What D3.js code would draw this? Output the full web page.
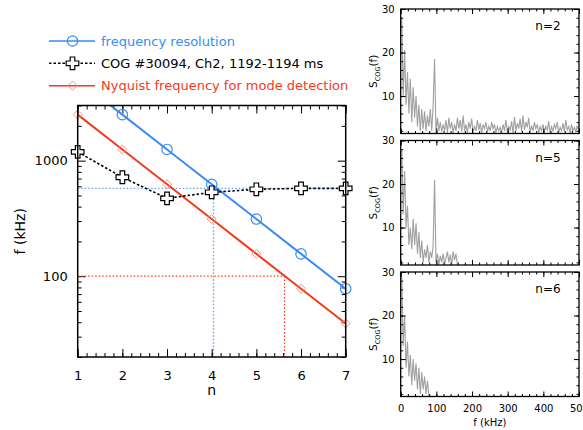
<!DOCTYPE html>
<html>
<head>
<meta charset="utf-8">
<script src="https://cdn.jsdelivr.net/npm/d3@7"></script>
<style>
  body { margin: 0; background: #fff; }
  svg { display: block; font-family: "DejaVu Sans", sans-serif; }
</style>
</head>
<body>
<div id="chart"></div>
<script>
// --- data ---
const nValues = [1, 2, 3, 4, 5, 6, 7];
const freqResolution = [5000, 2500, 1250, 625, 312.5, 156, 78];   // kHz
const cogFreq = [1190, 718, 472, 532, 565, 576, 576];            // kHz
const nyquistFreq = [2500, 1250, 625, 312.5, 156, 78, 39];        // kHz
const blueGuide = [4.04, 576];   // [n, f]
const redGuide = [5.63, 100];    // [n, f]
const legendLabels = ['frequency resolution', 'COG #30094, Ch2, 1192-1194 ms', 'Nyquist frequency for mode detection'];

// spectra S_COG(f), sampled every 4 kHz starting at 3 kHz
const specStart = 3;
const specStep = 4;
const specN2 = [28, 10, 20.5, 8, 15.5, 6, 14, 4, 12, 5, 10, 3, 8, 2, 7, 2.5, 6.5, 2, 5.5, 3,
  7, 2, 8, 18.5, 1.5, 5, 2, 4, 1.8, 3.5, 2, 4.5, 1.6, 5, 2.5, 4, 1.5, 3.5, 2, 5,
  2.5, 4.5, 1.8, 5.5, 2, 3.5, 1.5, 4, 2.5, 4.8, 1.6, 3, 2, 4.5, 2.2, 3.8, 1.5, 3.5, 2.5, 4,
  1.8, 3, 2, 4, 2.5, 3.5, 1.5, 3, 2, 2.8, 1.6, 3.5, 2, 4.5, 1.8, 3, 2.2, 4.2, 1.5, 5.2,
  2, 3.8, 2.5, 4.8, 1.8, 5.5, 2.2, 4, 2.8, 5, 1.6, 3.2, 2, 4, 2.5, 3.5, 1.5, 3, 2, 3.5,
  1.8, 3, 2.2, 4.2, 1.5, 3, 2, 3.5, 2.5, 4, 1.6, 2.8, 2, 3.8, 1.8, 4.5, 2.2, 3, 1.5, 3.5,
  2, 2.8, 1.8, 3.2, 2];
const specN5 = [28, 13, 23, 10, 15, 6, 10, 5, 12, 6, 11, 4, 9, 3, 7, 2, 5, 3, 6, 2,
  4.5, 3, 6, 21, 2, 4, 1.5, 3.5, 2, 4, 1.6, 3, 4.5, 2, 3.8, 1.5, 4.5, 2.5, 4, 1.5];
const specN6 = [29, 13, 20, 8, 14, 6, 11, 4, 10, 5, 9, 3, 8, 2, 7, 3, 6, 2, 5, 1.5];
const spectra = [specN2, specN5, specN6];
const panelLabels = ['n=2', 'n=5', 'n=6'];

const blue = '#3a8cf2';
const red = '#f43a1c';

const W = 583, H = 430;
const svg = d3.select('#chart').append('svg').attr('width', W).attr('height', H);

// ---------- main panel ----------
const x = d3.scaleLinear().domain([1, 7]).range([77.7, 345.7]);
const y = d3.scaleLog().domain([20, 3000]).range([357, 105.5]);

svg.append('clipPath').attr('id', 'mainClip')
  .append('rect')
  .attr('x', x(1)).attr('y', y(3000))
  .attr('width', x(7) - x(1)).attr('height', y(20) - y(3000));

function inwardAxis(g, axis) {
  g.call(axis);
  g.select('.domain').remove();
  g.selectAll('.tick line').attr('stroke', '#000').attr('stroke-width', 1);
}

const xMinor = d3.range(1, 7.001, 0.2);
const yMajor = [100, 1000];
const yMinor = [20, 30, 40, 50, 60, 70, 80, 90, 200, 300, 400, 500, 600, 700, 800, 900, 2000, 3000];

const axes = svg.append('g');
axes.append('g').attr('transform', `translate(0,${y(20)})`)
  .call(g => inwardAxis(g, d3.axisBottom(x).tickValues(xMinor).tickSize(-4).tickFormat('')));
axes.append('g').attr('transform', `translate(0,${y(20)})`)
  .call(g => inwardAxis(g, d3.axisBottom(x).tickValues(nValues).tickSize(-8).tickPadding(14).tickFormat(d3.format('d'))));
axes.append('g').attr('transform', `translate(0,${y(3000)})`)
  .call(g => inwardAxis(g, d3.axisTop(x).tickValues(xMinor).tickSize(-4).tickFormat('')));
axes.append('g').attr('transform', `translate(0,${y(3000)})`)
  .call(g => inwardAxis(g, d3.axisTop(x).tickValues(nValues).tickSize(-8).tickFormat('')));
axes.append('g').attr('transform', `translate(${x(1)},0)`)
  .call(g => inwardAxis(g, d3.axisLeft(y).tickValues(yMinor).tickSize(-4).tickFormat('')));
axes.append('g').attr('transform', `translate(${x(1)},0)`)
  .call(g => inwardAxis(g, d3.axisLeft(y).tickValues(yMajor).tickSize(-8).tickPadding(10).tickFormat(d3.format('d'))));
axes.append('g').attr('transform', `translate(${x(7)},0)`)
  .call(g => inwardAxis(g, d3.axisRight(y).tickValues(yMinor).tickSize(-4).tickFormat('')));
axes.append('g').attr('transform', `translate(${x(7)},0)`)
  .call(g => inwardAxis(g, d3.axisRight(y).tickValues(yMajor).tickSize(-8).tickFormat('')));
axes.selectAll('text').attr('font-size', 13).attr('font-family', '"DejaVu Sans", sans-serif').attr('fill', '#000');

// guide lines
const guides = svg.append('g').attr('clip-path', 'url(#mainClip)');
guides.append('path')
  .attr('d', `M${x(1)},${y(blueGuide[1])}H${x(7)}M${x(blueGuide[0])},${y(blueGuide[1])}V${y(20)}`)
  .attr('stroke', blue).attr('stroke-width', 1.3).attr('stroke-dasharray', '1.5,2').attr('fill', 'none').attr('opacity', 0.8);
guides.append('path')
  .attr('d', `M${x(1)},${y(redGuide[1])}H${x(redGuide[0])}V${y(20)}`)
  .attr('stroke', red).attr('stroke-width', 1.2).attr('stroke-dasharray', '1.5,2').attr('fill', 'none');

const lineOf = vals => d3.line().x((d, i) => x(nValues[i])).y(d => y(d))(vals);
const series = svg.append('g').attr('clip-path', 'url(#mainClip)');
series.append('path').attr('d', lineOf(nyquistFreq)).attr('stroke', red).attr('stroke-width', 2).attr('fill', 'none');
series.append('path').attr('d', lineOf(freqResolution)).attr('stroke', blue).attr('stroke-width', 2).attr('fill', 'none');
series.append('path').attr('d', lineOf(cogFreq)).attr('stroke', '#000').attr('stroke-width', 1.6)
  .attr('stroke-dasharray', '2.5,2').attr('fill', 'none');

// markers
const plusPath = 'M-2.3,-6.3H2.3V-2.3H6.3V2.3H2.3V6.3H-2.3V2.3H-6.3V-2.3H-2.3Z';
const diamondPath = 'M0,-4.5L4.5,0L0,4.5L-4.5,0Z';
const inDomain = v => v <= 3000 && v >= 20;

function drawCircle(g, cx, cy) {
  g.append('circle').attr('cx', cx).attr('cy', cy).attr('r', 5.2)
    .attr('fill', 'none').attr('stroke', blue).attr('stroke-width', 1.2);
}
function drawDiamond(g, cx, cy) {
  g.append('path').attr('d', diamondPath).attr('transform', `translate(${cx},${cy})`)
    .attr('fill', 'none').attr('stroke', '#f8907c').attr('stroke-width', 1);
}
function drawPlus(g, cx, cy) {
  g.append('path').attr('d', plusPath).attr('transform', `translate(${cx},${cy})`)
    .attr('fill', '#fff').attr('stroke', '#000').attr('stroke-width', 1.2);
}

const marks = svg.append('g');
nyquistFreq.forEach((v, i) => { if (inDomain(v)) drawDiamond(marks, x(nValues[i]), y(v)); });
freqResolution.forEach((v, i) => { if (inDomain(v)) drawCircle(marks, x(nValues[i]), y(v)); });
cogFreq.forEach((v, i) => { if (inDomain(v)) drawPlus(marks, x(nValues[i]), y(v)); });

svg.append('rect')
  .attr('x', x(1)).attr('y', y(3000))
  .attr('width', x(7) - x(1)).attr('height', y(20) - y(3000))
  .attr('fill', 'none').attr('stroke', '#000').attr('stroke-width', 1.5);

svg.append('text').attr('x', (x(1) + x(7)) / 2).attr('y', 395)
  .attr('text-anchor', 'middle').attr('font-size', 14).text('n');
svg.append('text').attr('transform', `translate(25,${(y(20) + y(3000)) / 2}) rotate(-90)`)
  .attr('text-anchor', 'middle').attr('font-size', 14).text('f (kHz)');

// legend
const legY = [41, 63.3, 85.7];
const leg = svg.append('g');
leg.append('line').attr('x1', 49).attr('x2', 95).attr('y1', legY[0]).attr('y2', legY[0])
  .attr('stroke', blue).attr('stroke-width', 1.5);
drawCircle(leg, 72.5, legY[0]);
leg.append('line').attr('x1', 49).attr('x2', 95).attr('y1', legY[1]).attr('y2', legY[1])
  .attr('stroke', '#000').attr('stroke-width', 1.5).attr('stroke-dasharray', '2.5,2');
drawPlus(leg, 72.5, legY[1]);
leg.append('line').attr('x1', 49).attr('x2', 95).attr('y1', legY[2]).attr('y2', legY[2])
  .attr('stroke', red).attr('stroke-width', 1.5);
drawDiamond(leg, 72.5, legY[2]);
const legColors = [blue, '#000', red];
legendLabels.forEach((t, i) => {
  leg.append('text').attr('x', 101).attr('y', legY[i]).attr('dy', '0.35em')
    .attr('font-size', 13).attr('fill', legColors[i]).text(t);
});

// ---------- spectra panels ----------
const fx = d3.scaleLinear().domain([0, 500]).range([400.7, 579]);
const panelTops = [9, 140.5, 272];
const panelH = 124.5;

spectra.forEach((vals, p) => {
  const top = panelTops[p], bottom = top + panelH;
  const sy = d3.scaleLinear().domain([1.4, 30]).range([bottom, top]);
  const g = svg.append('g');
  const clipId = 'specClip' + p;
  g.append('clipPath').attr('id', clipId).append('rect')
    .attr('x', fx(0)).attr('y', top).attr('width', fx(500) - fx(0)).attr('height', panelH);

  g.append('path')
    .attr('d', d3.line().x((d, i) => fx(specStart + i * specStep)).y(d => sy(d))(vals))
    .attr('clip-path', `url(#${clipId})`)
    .attr('fill', 'none').attr('stroke', '#a0a0a0').attr('stroke-width', 1.1);

  const xMin = d3.range(0, 501, 20), xMaj = d3.range(0, 501, 100);
  const yMin = d3.range(2, 30.1, 2), yMaj = [10, 20, 30];
  const ax = g.append('g');
  ax.append('g').attr('transform', `translate(0,${bottom})`)
    .call(a => inwardAxis(a, d3.axisBottom(fx).tickValues(xMin).tickSize(-2.5).tickFormat('')));
  ax.append('g').attr('transform', `translate(0,${bottom})`)
    .call(a => inwardAxis(a, d3.axisBottom(fx).tickValues(xMaj).tickSize(-5).tickPadding(8)
      .tickFormat(p === 2 ? d3.format('d') : '')));
  ax.append('g').attr('transform', `translate(0,${top})`)
    .call(a => inwardAxis(a, d3.axisTop(fx).tickValues(xMin).tickSize(-2.5).tickFormat('')));
  ax.append('g').attr('transform', `translate(0,${top})`)
    .call(a => inwardAxis(a, d3.axisTop(fx).tickValues(xMaj).tickSize(-5).tickFormat('')));
  ax.append('g').attr('transform', `translate(${fx(0)},0)`)
    .call(a => inwardAxis(a, d3.axisLeft(sy).tickValues(yMin).tickSize(-2.5).tickFormat('')));
  ax.append('g').attr('transform', `translate(${fx(0)},0)`)
    .call(a => inwardAxis(a, d3.axisLeft(sy).tickValues(yMaj).tickSize(-5).tickPadding(6).tickFormat(d3.format('d'))));
  ax.append('g').attr('transform', `translate(${fx(500)},0)`)
    .call(a => inwardAxis(a, d3.axisRight(sy).tickValues(yMin).tickSize(-2.5).tickFormat('')));
  ax.append('g').attr('transform', `translate(${fx(500)},0)`)
    .call(a => inwardAxis(a, d3.axisRight(sy).tickValues(yMaj).tickSize(-5).tickFormat('')));
  ax.selectAll('text').attr('font-size', 10).attr('font-family', '"DejaVu Sans", sans-serif').attr('fill', '#000');

  g.append('rect').attr('x', fx(0)).attr('y', top).attr('width', fx(500) - fx(0)).attr('height', panelH)
    .attr('fill', 'none').attr('stroke', '#000').attr('stroke-width', 1.3);

  g.append('text').attr('x', 548).attr('y', top + 17).attr('dy', '0.35em')
    .attr('text-anchor', 'middle').attr('font-size', 12).text(panelLabels[p]);

  const yl = g.append('text').attr('transform', `translate(377,${top + panelH / 2}) rotate(-90)`)
    .attr('text-anchor', 'middle').attr('font-size', 10.5);
  yl.append('tspan').text('S');
  yl.append('tspan').attr('font-size', 6.5).attr('dy', 3).text('COG');
  yl.append('tspan').attr('dy', -3).text('(f)');
});

svg.append('text').attr('x', (fx(0) + fx(500)) / 2).attr('y', 426)
  .attr('text-anchor', 'middle').attr('font-size', 10).text('f (kHz)');
</script>
</body>
</html>
